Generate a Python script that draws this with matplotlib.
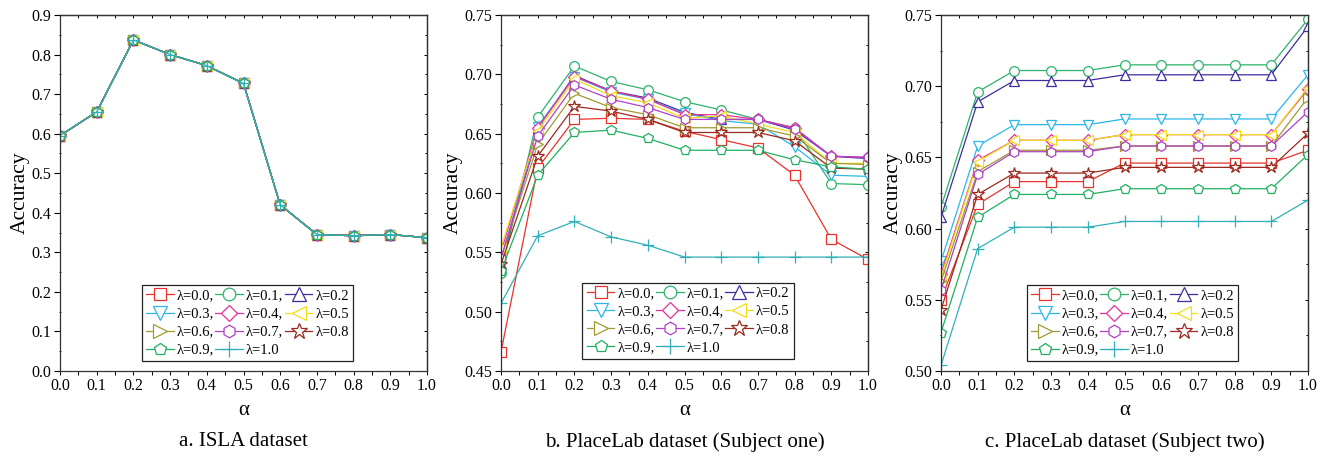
import matplotlib
matplotlib.use("Agg")
import matplotlib.pyplot as plt
from matplotlib.ticker import MultipleLocator, FormatStrFormatter, NullFormatter

plt.rcParams['font.family'] = ['Liberation Serif', 'DejaVu Serif']
plt.rcParams['mathtext.fontset'] = 'stix'

alpha = [0.0, 0.1, 0.2, 0.3, 0.4, 0.5, 0.6, 0.7, 0.8, 0.9, 1.0]
lambdas = ['0.0', '0.1', '0.2', '0.3', '0.4', '0.5', '0.6', '0.7', '0.8', '0.9', '1.0']
colors = ['#e8322a', '#2db36a', '#3a2ea0', '#2bb8e8', '#e8309a', '#f2dc1e',
          '#a09a30', '#b040c8', '#9a2a20', '#20b060', '#30b0b8']
markers = ['s', 'o', '^', 'v', 'D', '<', '>', 'h', '*', 'p', '+']

# Panel a: ISLA dataset (all lambda curves coincide)
isla = [0.595, 0.655, 0.837, 0.800, 0.772, 0.727, 0.420, 0.345, 0.342, 0.345, 0.337]
isla_data = [isla for _ in lambdas]

# Panel b: PlaceLab dataset (Subject one)
pl1_data = [
    [0.466, 0.621, 0.662, 0.663, 0.662, 0.652, 0.645, 0.638, 0.615, 0.561, 0.544],  # 0.0
    [0.533, 0.664, 0.707, 0.694, 0.687, 0.677, 0.670, 0.662, 0.655, 0.608, 0.607],  # 0.1
    [0.540, 0.655, 0.699, 0.686, 0.680, 0.668, 0.662, 0.662, 0.653, 0.631, 0.629],  # 0.2
    [0.542, 0.656, 0.698, 0.685, 0.679, 0.667, 0.661, 0.658, 0.639, 0.615, 0.614],  # 0.3
    [0.550, 0.655, 0.698, 0.686, 0.679, 0.666, 0.666, 0.662, 0.655, 0.631, 0.630],  # 0.4
    [0.554, 0.652, 0.696, 0.682, 0.676, 0.663, 0.665, 0.658, 0.651, 0.625, 0.625],  # 0.5
    [0.545, 0.641, 0.684, 0.672, 0.666, 0.655, 0.655, 0.655, 0.648, 0.625, 0.624],  # 0.6
    [0.545, 0.648, 0.691, 0.679, 0.672, 0.662, 0.662, 0.662, 0.654, 0.631, 0.630],  # 0.7
    [0.540, 0.631, 0.673, 0.669, 0.662, 0.651, 0.651, 0.651, 0.644, 0.621, 0.620],  # 0.8
    [0.534, 0.615, 0.651, 0.653, 0.646, 0.636, 0.636, 0.636, 0.628, 0.622, 0.620],  # 0.9
    [0.507, 0.564, 0.576, 0.563, 0.556, 0.546, 0.546, 0.546, 0.546, 0.546, 0.546],  # 1.0
]

# Panel c: PlaceLab dataset (Subject two)
pl2_data = [
    [0.550, 0.617, 0.633, 0.633, 0.633, 0.646, 0.646, 0.646, 0.646, 0.646, 0.655],  # 0.0
    [0.615, 0.696, 0.711, 0.711, 0.711, 0.715, 0.715, 0.715, 0.715, 0.715, 0.747],  # 0.1
    [0.608, 0.689, 0.704, 0.704, 0.704, 0.708, 0.708, 0.708, 0.708, 0.708, 0.742],  # 0.2
    [0.577, 0.658, 0.673, 0.673, 0.673, 0.677, 0.677, 0.677, 0.677, 0.677, 0.708],  # 0.3
    [0.568, 0.648, 0.662, 0.662, 0.662, 0.666, 0.666, 0.666, 0.666, 0.666, 0.698],  # 0.4
    [0.566, 0.647, 0.662, 0.662, 0.662, 0.666, 0.666, 0.666, 0.666, 0.666, 0.699],  # 0.5
    [0.563, 0.640, 0.655, 0.655, 0.655, 0.658, 0.658, 0.658, 0.658, 0.658, 0.692],  # 0.6
    [0.557, 0.638, 0.654, 0.654, 0.654, 0.658, 0.658, 0.658, 0.658, 0.658, 0.682],  # 0.7
    [0.543, 0.624, 0.639, 0.639, 0.639, 0.643, 0.643, 0.643, 0.643, 0.643, 0.667],  # 0.8
    [0.527, 0.608, 0.624, 0.624, 0.624, 0.628, 0.628, 0.628, 0.628, 0.628, 0.652],  # 0.9
    [0.504, 0.586, 0.601, 0.601, 0.601, 0.605, 0.605, 0.605, 0.605, 0.605, 0.620],  # 1.0
]

captions = ['a. ISLA dataset', 'b. PlaceLab dataset (Subject one)', 'c. PlaceLab dataset (Subject two)']
ylims = [(0.0, 0.9), (0.45, 0.75), (0.50, 0.75)]
ymajor = [0.1, 0.05, 0.05]
yfmt = ['%.1f', '%.2f', '%.2f']
datasets = [isla_data, pl1_data, pl2_data]

W, H = 1330, 457
fig = plt.figure(figsize=(W / 100, H / 100), dpi=100)
lefts = [60, 501, 941]
axw, axh = 367, 356
axbottom = 371
leg_anchor = [(0.511, 0.028), (0.51, 0.034), (0.522, 0.028)]

order = [0, 3, 6, 9, 1, 4, 7, 10, 2, 5, 8]

for k in range(3):
    ax = fig.add_axes([lefts[k] / W, (H - axbottom) / H, axw / W, axh / H])
    handles = []
    for i, lam in enumerate(lambdas):
        ms = 7
        if markers[i] in ('*', '+'):
            ms = 9
        elif markers[i] == 'D':
            ms = 6
        elif markers[i] in ('^', 'v', '<', '>'):
            ms = 7.5
        ln, = ax.plot(alpha, datasets[k][i], color=colors[i], lw=0.9,
                      marker=markers[i], ms=ms, mfc='white', mec=colors[i], mew=0.9,
                      label='λ=' + lam + (',' if (i % 3) != 2 and i < 10 else ''))
        handles.append(ln)
    ax.set_xlim(0, 1.0)
    ax.set_ylim(*ylims[k])
    ax.xaxis.set_major_locator(MultipleLocator(0.1))
    ax.xaxis.set_minor_locator(MultipleLocator(0.05))
    ax.yaxis.set_major_locator(MultipleLocator(ymajor[k]))
    ax.yaxis.set_minor_locator(MultipleLocator(ymajor[k] / 2))
    ax.xaxis.set_major_formatter(FormatStrFormatter('%.1f'))
    ax.yaxis.set_major_formatter(FormatStrFormatter(yfmt[k]))
    ax.tick_params(which='both', direction='out', top=False, right=False, labelsize=11.5, pad=2)
    ax.tick_params(axis='y', which='major', length=4.5, width=0.8)
    ax.tick_params(axis='y', which='minor', length=2, width=0.6, direction='inout')
    ax.tick_params(axis='x', which='both', length=3, width=0.7)
    for s in ax.spines.values():
        s.set_linewidth(0.9)
        s.set_color('#333333')
    # top and right ticks point inward
    sx = ax.secondary_xaxis('top')
    sx.xaxis.set_major_locator(MultipleLocator(0.1))
    sx.xaxis.set_minor_locator(MultipleLocator(0.05))
    sx.xaxis.set_major_formatter(NullFormatter())
    sx.tick_params(which='both', direction='in', length=2.5, width=0.7)
    sy = ax.secondary_yaxis('right')
    sy.yaxis.set_major_locator(MultipleLocator(ymajor[k]))
    sy.yaxis.set_minor_locator(MultipleLocator(ymajor[k] / 2))
    sy.yaxis.set_major_formatter(NullFormatter())
    sy.tick_params(which='both', direction='in', length=2.5, width=0.7)
    sy.tick_params(which='minor', length=1.5)
    for sec in (sx, sy):
        for s in sec.spines.values():
            s.set_linewidth(0.9)
            s.set_color('#333333')
    ax.set_xlabel('α', fontsize=15, labelpad=5)
    ax.set_ylabel('Accuracy', fontsize=15.5, labelpad=1)
    leg = ax.legend([handles[j] for j in order], [handles[j].get_label() for j in order],
                    ncol=3, loc='lower center', bbox_to_anchor=leg_anchor[k],
                    fontsize=10.5, frameon=True, fancybox=False, edgecolor='#222222',
                    framealpha=1, borderpad=0.3, labelspacing=0.33, handlelength=1.9,
                    handletextpad=0.2, columnspacing=0.1, borderaxespad=0, markerscale=1.3)
    leg.get_frame().set_linewidth(0.9)
    fig.text((lefts[k] + axw / 2) / W, 1 - 442 / H, captions[k], ha='center', va='center', fontsize=15)

fig.savefig('out.png', dpi=100)
